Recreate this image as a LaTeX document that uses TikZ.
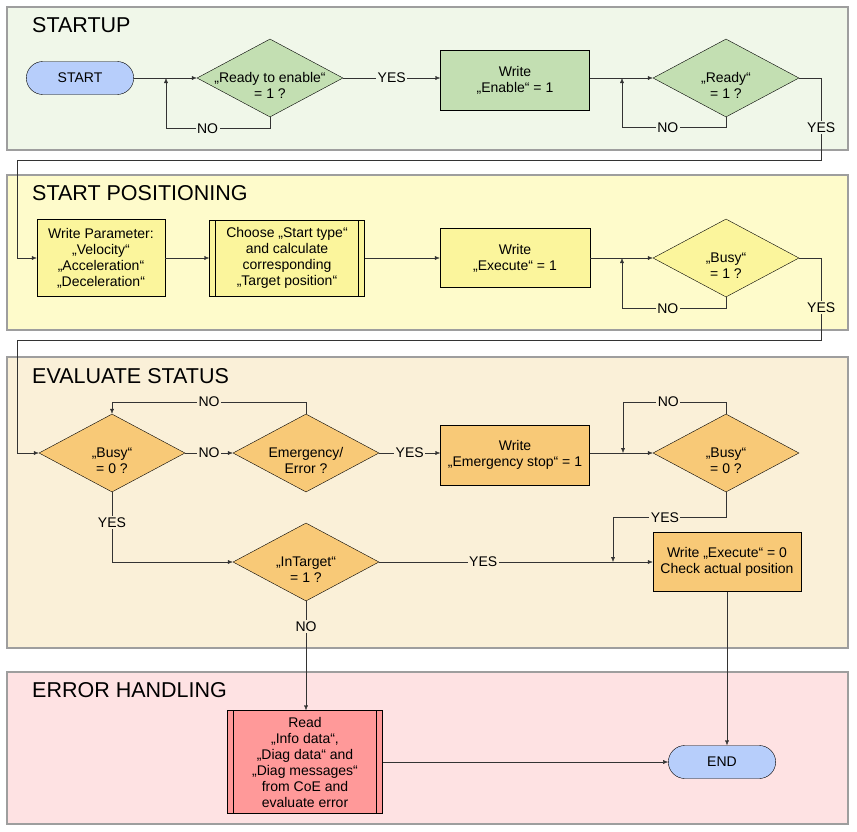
\documentclass[tikz,border=0pt]{standalone}
\usepackage{fontspec}
\setmainfont{Liberation Sans}
\usetikzlibrary{shapes.geometric,shapes.misc,arrows.meta}

\definecolor{bgA}{HTML}{F0F7E9}
\definecolor{bgB}{HTML}{FEFBCB}
\definecolor{bgC}{HTML}{FAF0D8}
\definecolor{bgD}{HTML}{FEE2E3}
\definecolor{nodeA}{HTML}{C3DFB2}
\definecolor{nodeB}{HTML}{FBF59C}
\definecolor{nodeC}{HTML}{F8C977}
\definecolor{nodeD}{HTML}{FF9999}
\definecolor{termblue}{HTML}{B7CEFB}

\newcommand{\asktext}[1]{\raisebox{-13pt}[0pt][0pt]{\makebox[0pt]{\begin{tabular}{@{}c@{}}#1\end{tabular}}}}

\tikzset{
  every node/.style={font=\fontsize{14}{16}\selectfont},
  band/.style={draw=black!38, line width=1.2pt},
  title/.style={anchor=base west, inner sep=0pt, font=\fontsize{21.5}{24}\selectfont},
  term/.style={rounded rectangle, draw, fill=termblue, minimum width=114pt, minimum height=33pt},
  act/.style={rectangle, draw, fill=#1, align=center, inner sep=2pt},
  sub/.style={act=#1, path picture={
      \draw ([xshift=6pt]path picture bounding box.north west) -- ([xshift=6pt]path picture bounding box.south west);
      \draw ([xshift=-6pt]path picture bounding box.north east) -- ([xshift=-6pt]path picture bounding box.south east);}},
  ask/.style={diamond, draw, fill=#1, inner sep=0pt, minimum width=146pt, minimum height=78pt},
  flow/.style={draw=black!80, -{Latex[length=5pt,width=4pt]}},
  lbl/.style={fill=#1, inner sep=1.5pt}
}

\begin{document}
\begin{tikzpicture}[x=1pt,y=-1pt]
  \useasboundingbox (0,0) rectangle (857,831);

  \draw[band,fill=bgA] (7,7) rectangle (848,150);
  \draw[band,fill=bgB] (7,175) rectangle (848,330);
  \draw[band,fill=bgC] (7,357) rectangle (848,648);
  \draw[band,fill=bgD] (7,672) rectangle (848,824);
  \node[title] (tA) at (32,32) {STARTUP};
  \node[title] (tB) at (32,200) {START POSITIONING};
  \node[title] (tC) at (32,383) {EVALUATE STATUS};
  \node[title] (tD) at (32,697) {ERROR HANDLING};

  % startup
  \node[term] (start) at (80,78) {START};
  \node[ask=nodeA] (rte) at (270,78) {\asktext{„Ready to enable“\\= 1 ?}};
  \node[act=nodeA, minimum width=149pt, minimum height=60pt] (wen) at (515,80) {Write\\„Enable“ = 1};
  \node[ask=nodeA] (rdy) at (726,78) {\asktext{„Ready“\\= 1 ?}};

  % start positioning
  \node[act=nodeB, minimum width=128pt, minimum height=77pt] (wpar) at (101,258) {Write Parameter:\\„Velocity“\\„Acceleration“\\„Deceleration“};
  \node[sub=nodeB, minimum width=155pt, minimum height=76pt] (chs) at (287,258) {Choose „Start type“\\and calculate\\corresponding\\„Target position“};
  \node[act=nodeB, minimum width=150pt, minimum height=59pt] (wex) at (515,258) {Write\\„Execute“ = 1};
  \node[ask=nodeB] (bsy) at (726,258) {\asktext{„Busy“\\= 1 ?}};

  % evaluate status
  \node[ask=nodeC] (bzl) at (112,453) {\asktext{„Busy“\\= 0 ?}};
  \node[ask=nodeC] (emg) at (306,453) {\asktext{Emergency/\\Error ?}};
  \node[act=nodeC, minimum width=149pt, minimum height=60pt] (estp) at (515,455) {Write\\„Emergency stop“ = 1};
  \node[ask=nodeC] (bzr) at (726,453) {\asktext{„Busy“\\= 0 ?}};
  \node[ask=nodeC] (itg) at (306,562) {\asktext{„InTarget“\\= 1 ?}};
  \node[act=nodeC, minimum width=148pt, minimum height=59pt] (wex0) at (727,562) {Write „Execute“ = 0\\Check actual position};

  % error handling
  \node[sub=nodeD, minimum width=155pt, minimum height=103pt] (rd) at (305,762) {Read\\„Info data“,\\„Diag data“ and\\„Diag messages“\\from CoE and\\evaluate error};
  \node[term] (fin) at (722,762) {END};

  \coordinate (j1) at (166,78);
  \coordinate (j2) at (622,78);
  \coordinate (j3) at (622,258);
  \coordinate (j4) at (623,453);
  \coordinate (j5) at (613,562);

  \draw[flow] (start.east) -- (rte.west);
  \draw[flow] (rte.south) -- ++(0,11) -| node[lbl=bgA,pos=0.3] {NO} (j1);
  \draw[flow] (rte.east) -- node[lbl=bgA] {YES} (rte.east -| wen.west);
  \draw[flow] (wen.east |- rdy.west) -- (rdy.west);
  \draw[flow] (rdy.south) -- ++(0,10) -| node[lbl=bgA,pos=0.28] {NO} (j2);
  \draw[flow] (rdy.east) -| node[lbl=bgA,pos=0.8] {YES} ++(22,82) -| ++(-804,98) -- (wpar.west);

  \draw[flow] (wpar.east) -- (chs.west);
  \draw[flow] (chs.east) -- (wex.west);
  \draw[flow] (wex.east) -- (bsy.west);
  \draw[flow] (bsy.south) -- ++(0,11) -| node[lbl=bgB,pos=0.28] {NO} (j3);
  \draw[flow] (bsy.east) -| node[lbl=bgB,pos=0.8] {YES} ++(22,82) -| ++(-804,113) -- (bzl.west);

  \draw[flow] (bzl.east) -- node[lbl=bgC] {NO} (emg.west);
  \draw[flow] (emg.north) -- ++(0,-12) -| node[lbl=bgC,pos=0.25] {NO} (bzl.north);
  \draw[flow] (emg.east) -- node[lbl=bgC] {YES} (emg.east -| estp.west);
  \draw[flow] (estp.east |- bzr.west) -- (bzr.west);
  \draw[flow] (bzr.north) -- ++(0,-12) -| node[lbl=bgC,pos=0.28] {NO} (j4);
  \draw[flow] (bzr.south) -- ++(0,25) -| node[lbl=bgC,pos=0.27] {YES} (j5);
  \draw[flow] (bzl.south) |- node[lbl=bgC,pos=0.22] {YES} (itg.west);
  \draw[flow] (itg.east) -- node[lbl=bgC,pos=0.38] {YES} (wex0.west);
  \draw[flow] (itg.south) -- node[lbl=bgC,pos=0.23] {NO} (itg.south |- rd.north);

  \draw[flow] (rd.east) -- (fin.west);
  \draw[flow] (wex0.south) -- (wex0.south |- fin.north);
\end{tikzpicture}
\end{document}
